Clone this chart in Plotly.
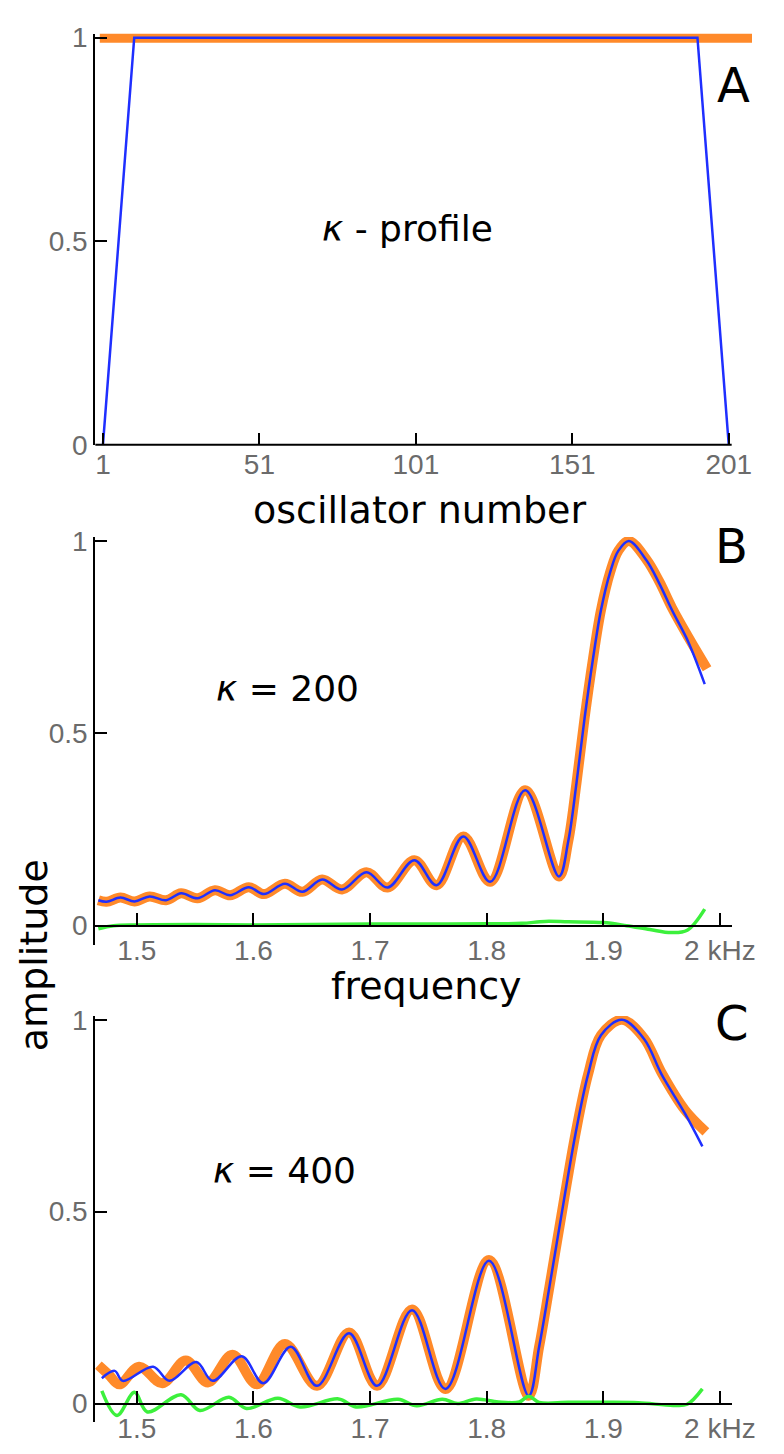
import plotly.graph_objects as go

# ---------------- Panel A: kappa profile ----------------
osc_blue = [1, 11, 191, 201]
kappa_profile = [0, 1, 1, 0]
osc_uniform = [0, 215]
kappa_uniform = [1, 1]
osc_ticks = [1, 51, 101, 151, 201]

# ---------------- Panel B: kappa = 200 ----------------
freq_b_blue = [1.467, 1.474, 1.486, 1.498, 1.511, 1.525, 1.538, 1.552, 1.567, 1.580,
               1.596, 1.609, 1.627, 1.642, 1.659, 1.676, 1.697, 1.715, 1.738, 1.757,
               1.780, 1.803, 1.833, 1.862, 1.870, 1.877, 1.884, 1.891, 1.898, 1.906,
               1.913, 1.922, 1.937, 1.948, 1.959, 1.973, 1.987]
amp_b_blue = [0.066, 0.062, 0.073, 0.063, 0.076, 0.066, 0.084, 0.071, 0.092, 0.079,
              0.100, 0.082, 0.109, 0.088, 0.120, 0.094, 0.139, 0.099, 0.170, 0.105,
              0.232, 0.114, 0.352, 0.128, 0.22, 0.37, 0.54, 0.69, 0.82, 0.92,
              0.975, 1.0, 0.95, 0.89, 0.82, 0.737, 0.628]
freq_b_orange = [1.467, 1.474, 1.486, 1.498, 1.511, 1.525, 1.538, 1.552, 1.567, 1.580,
                 1.596, 1.609, 1.627, 1.642, 1.659, 1.676, 1.697, 1.715, 1.738, 1.757,
                 1.780, 1.803, 1.833, 1.862, 1.870, 1.877, 1.884, 1.891, 1.898, 1.906,
                 1.913, 1.922, 1.937, 1.948, 1.959, 1.973, 1.989]
amp_b_orange = [0.066, 0.062, 0.073, 0.063, 0.076, 0.066, 0.084, 0.071, 0.092, 0.079,
                0.100, 0.082, 0.109, 0.088, 0.120, 0.094, 0.139, 0.099, 0.170, 0.105,
                0.232, 0.114, 0.352, 0.128, 0.22, 0.37, 0.54, 0.69, 0.82, 0.92,
                0.975, 1.0, 0.952, 0.895, 0.826, 0.75, 0.668]
freq_b_green = [1.467, 1.48, 1.50, 1.55, 1.60, 1.65, 1.70, 1.75, 1.80, 1.83,
                1.85, 1.87, 1.90, 1.92, 1.94, 1.958, 1.972, 1.987]
amp_b_green = [-0.008, 0.0, 0.002, 0.003, 0.002, 0.003, 0.004, 0.004, 0.005, 0.006,
               0.011, 0.010, 0.008, 0.0, -0.01, -0.018, -0.012, 0.043]

# ---------------- Panel C: kappa = 400 ----------------
freq_c_blue = [1.470, 1.481, 1.488, 1.514, 1.528, 1.551, 1.565, 1.590, 1.6085, 1.632,
               1.6545, 1.682, 1.706, 1.736, 1.7647, 1.802, 1.836, 1.845, 1.8536, 1.866,
               1.876, 1.887, 1.898, 1.916, 1.935, 1.950, 1.970, 1.985]
amp_c_blue = [0.066, 0.085, 0.059, 0.096, 0.059, 0.108, 0.059, 0.123, 0.053, 0.148,
              0.046, 0.183, 0.046, 0.243, 0.038, 0.372, 0.02, 0.148, 0.30, 0.525,
              0.70, 0.858, 0.96, 1.0, 0.95, 0.858, 0.756, 0.67]
freq_c_orange = [1.467, 1.476, 1.485, 1.502, 1.522, 1.542, 1.561, 1.582, 1.603, 1.627,
                 1.6545, 1.682, 1.706, 1.736, 1.7647, 1.802, 1.836, 1.845, 1.8536, 1.866,
                 1.876, 1.887, 1.898, 1.916, 1.935, 1.950, 1.970, 1.988]
amp_c_orange = [0.10, 0.075, 0.05, 0.096, 0.053, 0.112, 0.055, 0.127, 0.05, 0.155,
                0.046, 0.185, 0.046, 0.245, 0.038, 0.374, 0.02, 0.148, 0.30, 0.525,
                0.70, 0.858, 0.96, 1.0, 0.952, 0.862, 0.765, 0.708]
freq_c_green = [1.470, 1.483, 1.498, 1.509, 1.538, 1.554, 1.579, 1.594, 1.621, 1.640,
                1.673, 1.688, 1.724, 1.740, 1.762, 1.775, 1.791, 1.81, 1.828, 1.836,
                1.845, 1.87, 1.90, 1.93, 1.96, 1.972, 1.985]
amp_c_green = [0.033, -0.031, 0.029, -0.022, 0.023, -0.018, 0.016, -0.013, 0.014, -0.009,
               0.012, -0.009, 0.011, -0.006, 0.011, 0.0, 0.012, 0.004, 0.004, 0.019,
               0.003, 0.003, 0.003, 0.002, -0.005, -0.002, 0.038]

freq_ticks = [1.5, 1.6, 1.7, 1.8, 1.9, 2.0]
freq_ticktext = ["1.5", "1.6", "1.7", "1.8", "1.9", "2 kHz"]
amp_ticks = [0, 0.5, 1]
amp_ticktext = ["0", "0.5", "1"]

ORANGE = "#FF8A2A"
BLUE = "#1F2FFF"
GREEN = "#3CF03C"

# The page body keeps its default 8 px margin; the figure is sized so the
# page fits the 784x1454 window exactly (no scrollbars, no rescaling).
# Positions below are given in window pixels.
OFF = 8
W, H = 784 - 2 * OFF, 1454 - 2 * OFF


def fx(p):
    return (p - OFF) / W


def fy(p):
    return 1 - (p - OFF) / H


fig = go.Figure()

# Panel A
fig.add_trace(go.Scatter(x=osc_uniform, y=kappa_uniform, mode="lines",
                         line=dict(color=ORANGE, width=10), xaxis="x", yaxis="y"))
fig.add_trace(go.Scatter(x=osc_blue, y=kappa_profile, mode="lines",
                         line=dict(color=BLUE, width=2.5), xaxis="x", yaxis="y"))

# Panel B
fig.add_trace(go.Scatter(x=freq_b_orange, y=amp_b_orange, mode="lines",
                         line=dict(color=ORANGE, width=10, shape="spline", smoothing=1),
                         xaxis="x2", yaxis="y2"))
fig.add_trace(go.Scatter(x=freq_b_blue, y=amp_b_blue, mode="lines",
                         line=dict(color=BLUE, width=2.5, shape="spline", smoothing=1),
                         xaxis="x2", yaxis="y2"))
fig.add_trace(go.Scatter(x=freq_b_green, y=amp_b_green, mode="lines",
                         line=dict(color=GREEN, width=3.5, shape="spline", smoothing=1),
                         xaxis="x2", yaxis="y2"))

# Panel C
fig.add_trace(go.Scatter(x=freq_c_orange, y=amp_c_orange, mode="lines",
                         line=dict(color=ORANGE, width=10, shape="spline", smoothing=1),
                         xaxis="x3", yaxis="y3"))
fig.add_trace(go.Scatter(x=freq_c_blue, y=amp_c_blue, mode="lines",
                         line=dict(color=BLUE, width=2.5, shape="spline", smoothing=1),
                         xaxis="x3", yaxis="y3"))
fig.add_trace(go.Scatter(x=freq_c_green, y=amp_c_green, mode="lines",
                         line=dict(color=GREEN, width=3.5, shape="spline", smoothing=1),
                         xaxis="x3", yaxis="y3"))

tickfont = dict(family="Liberation Sans", size=28, color="#6b6b6b")
common_ax = dict(showgrid=False, zeroline=False, ticks="inside", ticklen=12,
                 tickwidth=2, tickcolor="black", tickfont=tickfont, fixedrange=True,
                 ticklabeloverflow="allow")

# panel A x-range: 1 -> 106 px, 201 -> 752 px
a_ppu = (752 - 106) / 200
a_x0 = 1 - (106 - 98) / a_ppu
a_x1 = a_x0 + (776 - 98) / a_ppu

fig.update_layout(
    width=W, height=H,
    margin=dict(l=0, r=0, t=0, b=0),
    paper_bgcolor="white", plot_bgcolor="white",
    showlegend=False,
    xaxis=dict(domain=[fx(98), 1], range=[a_x0, a_x1], tickvals=osc_ticks,
               showline=False, anchor="y", **common_ax),
    yaxis=dict(domain=[fy(442), fy(23)], range=[0, 1.0096], tickvals=amp_ticks,
               ticktext=amp_ticktext, showline=True, linecolor="black", linewidth=2,
               anchor="x", **common_ax),
    xaxis2=dict(domain=[fx(98), fx(755)], range=[1.4643, 2.0101], tickvals=freq_ticks,
                ticktext=freq_ticktext, showline=True, linecolor="black", linewidth=2,
                anchor="free", position=fy(932), **common_ax),
    yaxis2=dict(domain=[fy(952), fy(536)], range=[-0.051, 1.0102], tickvals=amp_ticks,
                ticktext=amp_ticktext, showline=True, linecolor="black", linewidth=2,
                anchor="x2", **common_ax),
    xaxis3=dict(domain=[fx(98), fx(755)], range=[1.4643, 2.0101], tickvals=freq_ticks,
                ticktext=freq_ticktext, showline=True, linecolor="black", linewidth=2,
                anchor="free", position=fy(1419), **common_ax),
    yaxis3=dict(domain=[fy(1438), fy(1024)], range=[-0.0486, 1.0102], tickvals=amp_ticks,
                ticktext=amp_ticktext, showline=True, linecolor="black", linewidth=2,
                anchor="x3", **common_ax),
)

# x-axis line of panel A (ends just past the last oscillator)
fig.add_shape(type="line", xref="x", yref="y domain", x0=a_x0, x1=a_x0 + (755 - 98) / a_ppu,
              y0=0, y1=0, line=dict(color="black", width=2))

lab = dict(family="DejaVu Sans", size=38, color="black")
mid = dict(family="DejaVu Sans", size=36, color="black")
big = dict(family="DejaVu Sans", size=48, color="black")
ann = [
    dict(text="oscillator number", x=fx(433), y=fy(508), font=lab),
    dict(text="frequency", x=fx(440), y=fy(993), font=lab),
    dict(text="amplitude", x=fx(35), y=fy(962), font=lab, textangle=-90),
    dict(text="<i>κ</i> - profile", x=fx(420), y=fy(222), font=mid),
    dict(text="<i>κ</i> = 200", x=fx(297), y=fy(690), font=mid),
    dict(text="<i>κ</i> = 400", x=fx(293), y=fy(1182), font=mid),
    dict(text="A", x=fx(757), y=fy(75), font=big),
    dict(text="B", x=fx(755), y=fy(545), font=big),
    dict(text="C", x=fx(755), y=fy(1031), font=big),
]
for a in ann:
    a.update(xref="paper", yref="paper", showarrow=False, xanchor="center", yanchor="middle")
    fig.add_annotation(**a)

fig.write_html("out.html")
